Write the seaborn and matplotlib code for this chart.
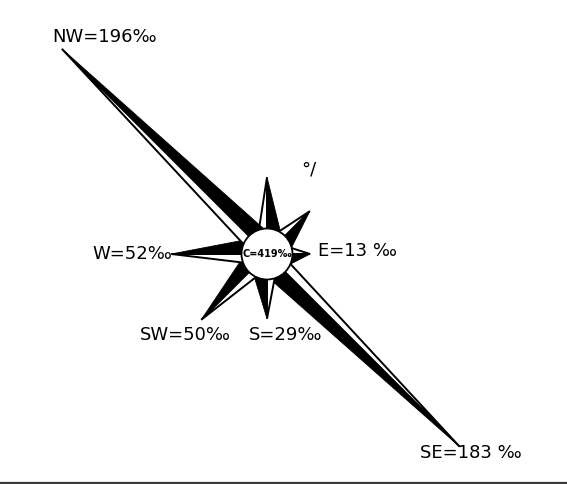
import numpy as np
import matplotlib
matplotlib.use("Agg")
import matplotlib.pyplot as plt
import seaborn as sns
from matplotlib.patches import Circle, Polygon

# ---- data ----
directions = ["N", "NE", "E", "SE", "S", "SW", "W", "NW"]
bearings = [0, 45, 90, 135, 180, 225, 270, 315]
values = [38, 26, 13, 183, 29, 50, 52, 196]        # per mille
labels = ["", "", "E=13 ‰", "SE=183 ‰", "S=29‰", "SW=50‰", "W=52‰", "NW=196‰"]
calm_label = "C=419‰"

sns.set_theme(style="white")
plt.rcParams["font.family"] = ["DejaVu Sans"]

W, H = 567, 485
fig = plt.figure(figsize=(W / 100, H / 100), dpi=100)
ax = fig.add_axes([0, 0, 1, 1])
ax.set_xlim(0, W)
ax.set_ylim(H, 0)
ax.axis("off")

cx, cy = 267, 255
r_c = 25.5
r_base = 12.0
scale = 1.35
black_w = 16.0
white_w = 10.0

# label placement (offset from tip, alignment)
label_pos = {
    "E": (dict(dx=8, dy=-3.5), "left", "center"),
    "SE": (dict(dx=-40, dy=5.5), "left", "center"),
    "S": (dict(dx=-18, dy=15.5), "left", "center"),
    "SW": (dict(dx=-16, dy=14), "center", "center"),
    "W": (dict(dx=0.5, dy=-1), "right", "center"),
    "NW": (dict(dx=-10, dy=-13), "left", "center"),
}

for d, b, v, lab in zip(directions, bearings, values, labels):
    a = np.deg2rad(b)
    u = np.array([np.sin(a), -np.cos(a)])
    rt = np.array([-u[1], u[0]])
    c = np.array([cx, cy])
    L = r_c + scale * v
    base = c + r_base * u
    tip = c + L * u
    black = Polygon([base, base + black_w * rt, tip], closed=True,
                    facecolor="black", edgecolor="black", lw=0.6, zorder=2)
    white = Polygon([base, base - white_w * rt, tip], closed=True,
                    facecolor="white", edgecolor="black", lw=1.4, zorder=2)
    ax.add_patch(white)
    ax.add_patch(black)
    if lab:
        off, ha, va = label_pos[d]
        ax.text(tip[0] + off["dx"], tip[1] + off["dy"], lab, ha=ha, va=va,
                fontsize=13, color="black", zorder=4)

circ = Circle((cx, cy), r_c, facecolor="white", edgecolor="black", lw=1.3, zorder=3)
ax.add_patch(circ)
ax.text(cx, cy - 1, calm_label, ha="center", va="center", fontsize=7,
        fontweight="bold", color="black", zorder=4)

ax.text(309, 170, "°/", ha="center", va="center", fontsize=13,
        color="black", zorder=4)

ax.axhline(483.7, color="#3a3a3a", lw=1.6, zorder=1)

fig.savefig("out.png", dpi=100)
